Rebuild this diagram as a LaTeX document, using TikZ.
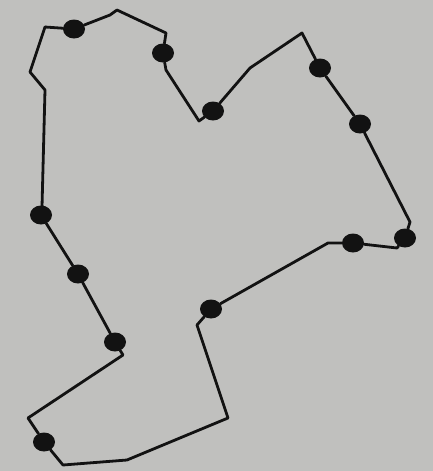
\documentclass[tikz,border=0pt]{standalone}
\usetikzlibrary{shapes.geometric}
\definecolor{bg}{RGB}{192,192,190}
\definecolor{ink}{RGB}{18,18,18}
\tikzset{
  dot/.style={ellipse, fill=ink, inner sep=0pt, minimum width=22pt, minimum height=19pt},
  outline/.style={draw=ink, line width=2.8pt, line join=round, line cap=round}
}
\begin{document}
\begin{tikzpicture}[x=1pt,y=-1pt]
\fill[bg] (0,0) rectangle (433,471);
\useasboundingbox (0,0) rectangle (433,471);
% corner points
\coordinate (a) at (45,27);
\coordinate (a1) at (110,15);
\coordinate (b) at (117,10);
\coordinate (c) at (166,33);
\coordinate (c1) at (166,70);
\coordinate (e) at (199,121);
\coordinate (e1) at (250,68);
\coordinate (f) at (302,33);
\coordinate (g) at (410,222);
\coordinate (g1) at (397,248);
\coordinate (h) at (328,243);
\coordinate (n) at (197,325);
\coordinate (i) at (228,418);
\coordinate (j) at (127,460);
\coordinate (k) at (63,465);
\coordinate (l) at (28,418);
\coordinate (m) at (123,355);
\coordinate (p) at (42,207);
\coordinate (q) at (45,90);
\coordinate (r) at (30,72);
% dots
\node[dot] (d1) at (74,29) {};
\node[dot] (d2) at (163,53) {};
\node[dot] (d3) at (213,111) {};
\node[dot] (d5) at (320,68) {};
\node[dot] (d6) at (360,124) {};
\node[dot] (d7) at (405,238) {};
\node[dot] (d8) at (353,243) {};
\node[dot] (d9) at (211,309) {};
\node[dot] (d11) at (115,342) {};
\node[dot] (d12) at (78,274) {};
\node[dot] (d4) at (41,215) {};
\node[dot] (d10) at (44,442) {};
% outline
\draw[outline] (a) -- (d1);
\draw[outline] (d1) -- (a1) -- (b) -- (c) -- (d2);
\draw[outline] (d2) -- (c1) -- (e) -- (d3);
\draw[outline] (d3) -- (e1) -- (f) -- (d5);
\draw[outline] (d5) -- (d6);
\draw[outline] (d6) -- (g) -- (d7);
\draw[outline] (d7) -- (g1) -- (d8);
\draw[outline] (d8) -- (h) -- (d9);
\draw[outline] (d9) -- (n) -- (i) -- (j) -- (k) -- (d10);
\draw[outline] (d10) -- (l) -- (m) -- (d11);
\draw[outline] (d11) -- (d12);
\draw[outline] (d12) -- (d4);
\draw[outline] (d4) -- (p) -- (q) -- (r) -- (a);
\end{tikzpicture}
\end{document}
